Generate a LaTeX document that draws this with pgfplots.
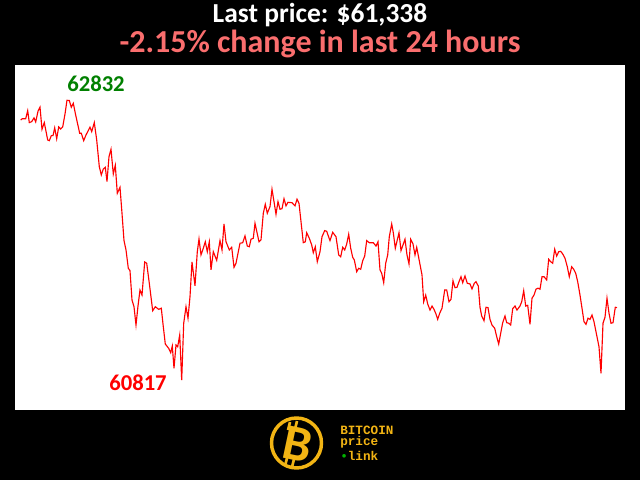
\documentclass[border=0pt]{standalone}
\usepackage{pgfplots}
\pgfplotsset{compat=1.18}
\usepackage{fontspec}
\setmainfont{Carlito}
\newfontfamily\monofont{Liberation Mono}

\definecolor{salmon}{RGB}{250,110,110}
\definecolor{peakgreen}{RGB}{0,128,0}
\definecolor{btcgold}{RGB}{242,180,20}

% price over the last 24 hours (x = time index, y = USD)
\pgfplotstableread{
x y
20.7 62690
22.3 62699
25.7 62699
27.7 62757
29.3 62671
31.7 62678
34 62705
35.7 62676
38 62753
40 62782
42 62623
44.3 62671
47.7 62546
49.3 62541
51.3 62577
53 62577
54.7 62633
56.7 62555
58.7 62640
60.7 62625
62.7 62640
65 62733
67 62832
69.3 62830
71.3 62782
73.3 62810
75.3 62738
79.7 62594
81.3 62594
83.7 62541
86 62582
90 62638
91.7 62606
94.3 62671
96.7 62546
99.3 62354
101.3 62294
103.3 62337
105.3 62349
107 62246
109 62426
111 62479
113.3 62301
115.3 62364
117.3 62162
120 62205
122 62018
124 61821
126 61754
128.3 61622
130 61605
132 61393
134 61345
136 61213
138 61350
140 61465
142 61429
144.7 61667
146.7 61658
149.3 61514
152.7 61316
155.3 61345
158.7 61326
161.3 61334
163.3 61201
165.3 61076
168.7 61045
170.7 61014
172.3 61062
174 60901
176 61069
177.7 61057
179.7 61141
181.7 60817
183.7 61226
186 61345
188 61262
190 61417
192 61667
195 61496
197.3 61741
199 61833
201 61718
203.3 61766
205.3 61813
207.3 61741
209.3 61813
211 61610
213.3 61741
216.7 61679
220 61821
222 61754
224 61941
226 61813
229.3 61754
231.7 61773
234 61629
236 61658
240 61802
242.7 61806
245 61855
247.3 61782
249.3 61777
251 61831
253.3 61838
255 61946
259 61813
261 61826
263.3 62018
265.3 62083
267.3 62018
270 62066
272 62191
274 62102
276 62011
278 62102
280 62047
282 62051
284 62123
286 62071
288 62097
292 62094
295 62071
297 62119
299 62090
303.3 61806
305.3 61813
306.7 61878
309.3 61838
311.7 61790
313.3 61734
315.3 61777
317.3 61669
320 61741
322 61849
324.7 61893
326.7 61888
328.3 61855
330 61821
332.7 61881
336 61849
338.7 61718
340.7 61705
342.7 61773
344.7 61754
346.7 61797
348.7 61867
350.7 61766
352.7 61701
354.3 61682
356.7 61597
358.7 61622
360.7 61615
362.7 61676
364.7 61710
366.7 61821
369.3 61806
373.3 61806
376 61782
378 61813
380 61610
381.7 61586
383.7 61518
385.7 61658
387.7 61718
389.3 61849
391.7 61941
393.3 61878
395.3 61766
399 61878
401 61749
403 61790
405 61831
407 61718
409 61653
410.7 61831
413 61797
415 61718
416.7 61773
419.3 61676
422 61574
423.7 61381
425.7 61429
427.7 61365
430 61321
432 61350
434 61326
436 61292
437.7 61254
439.7 61298
442 61334
444.7 61465
446.7 61465
449 61381
451 61398
453 61532
455 61482
457 61485
459 61525
461 61561
462.7 61518
465 61566
467.3 61514
470 61509
472 61473
474.3 61514
476 61525
478.3 61494
480 61341
481.7 61278
484 61244
486 61341
488 61338
490 61254
492 61213
494.7 61190
496.7 61129
498.7 61076
500.7 61154
502.7 61230
505 61278
506.7 61230
508.7 61226
510.7 61213
512.7 61331
515 61350
517 61321
520 61350
521.7 61381
523.7 61460
525.7 61350
527.7 61355
530 61218
532 61406
534 61429
536 61471
538 61478
540 61471
542 61561
544 61561
546.7 61538
548.7 61687
550.7 61669
552.7 61658
554.7 61759
556.7 61710
558.7 61741
560.7 61744
562.7 61725
565 61694
567.3 61633
569.3 61561
571.7 61633
573.7 61615
575.7 61586
577.7 61525
580 61429
582 61334
584 61237
586 61218
588 61262
590 61254
592 61285
594 61237
596 61165
599 61057
601 60865
603 61226
605 61269
607 61406
609 61298
611 61226
613 61230
615.3 61341
617 61338
}\pricedata

\begin{document}
\begin{tikzpicture}[x=0.75pt,y=0.75pt]
% black page
\fill[black] (0,0) rectangle (640,480);

\begin{axis}[
    at={(11.25pt,52.5pt)}, anchor=south west,
    scale only axis,
    width=457.5pt, height=258.75pt,
    xmin=15, xmax=625,
    ymin=60601, ymax=63086,
    axis background/.style={fill=white},
    axis line style={draw=none},
    ticks=none,
    clip=false,
]
\addplot[red, line width=0.85pt] table[x=x, y=y] {\pricedata};
\node[text=peakgreen, font=\bfseries\fontsize{17}{17}\selectfont] at (axis cs:96,62949) {62832};
\node[text=red, font=\bfseries\fontsize{17}{17}\selectfont] at (axis cs:138,60795) {60817};
\end{axis}

% titles
\node[text=white, inner sep=0pt, font=\bfseries\fontsize{20.6}{20.6}\selectfont] at (320,465) {Last price: \$61,338};
\node[text=salmon, inner sep=0pt, font=\bfseries\fontsize{24}{24}\selectfont] at (320,436) {-2.15\% change in last 24 hours};

% logo
\draw[btcgold, line width=2.6pt] (296.5,37) circle (25);
\node[text=btcgold, rotate=-12, font=\bfseries\fontsize{38}{38}\selectfont] at (298,36) {B};
\draw[btcgold, line width=2pt] (290,58) -- (288,50) (297,59) -- (295,51) (287,22) -- (285,14) (294,21) -- (292,13);
\node[text=btcgold, anchor=west, inner sep=0pt, font=\monofont\bfseries\fontsize{9.5}{9.5}\selectfont] at (340,50) {BITCOIN};
\node[text=btcgold, anchor=west, inner sep=0pt, font=\monofont\bfseries\fontsize{9.5}{9.5}\selectfont] at (340,37.5) {price};
\node[text=btcgold, anchor=west, inner sep=0pt, font=\monofont\bfseries\fontsize{9.5}{9.5}\selectfont] at (340,24) {{\color{green!70!black}\textbullet}link};
\end{tikzpicture}
\end{document}
